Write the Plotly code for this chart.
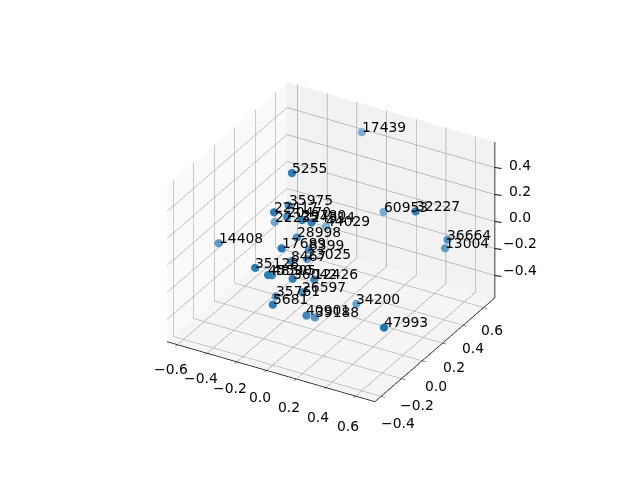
import plotly.graph_objects as go

labels = ["17439","5255","35975","22417","20470","22235","29780","24314","44029","14408",
          "28998","17689","8399","23025","8467","35128","45590","48505","36042","12426",
          "26597","35761","5681","40901","39188","34200","47993","60953","32227","36664","13004"]
xs = [-.15,-.14,-.19,-.157,-.16,-.367,-.01,.04,-.16,-.532,
      -.10,-.037,-.02,-.08,-.06,-.153,-.08,-.13,.023,.10,
      .02,-.17,-.003,.13,.083,.19,.618,.118,.527,.59,.57]
ys = [.685,-.01,.03,-.16,-.03,.15,-.10,-.08,.35,-.157,
      -.02,-.26,-.02,.05,-.13,-.35,-.33,-.22,-.24,-.14,
      -.14,-.125,-.395,-.26,-.11,.14,-.21,.51,.23,.45,.455]
zs = [.40,.558,.275,.36,.24,.018,.31,.295,-.08,.01,
      .10,.197,.035,-.10,.01,.075,.032,-.058,-.023,-.07,
      -.19,-.29,-.12,-.248,-.375,-.405,-.215,.01,.328,-.007,-.08]
ticks_x = [-0.6,-0.4,-0.2,0.0,0.2,0.4,0.6]
ticks_y = [-0.4,-0.2,0.0,0.2,0.4,0.6]
ticks_z = [-0.4,-0.2,0.0,0.2,0.4]
xr = [-0.67, 0.73]
yr = [-0.46, 0.71]
zr = [-0.565, 0.59]

def fmt(t):
    return f"{t:.1f}".replace("-", "\u2212")

# depth shading: far points fade towards white (solid colours)
depth = [0.433*x - 0.75*y + 0.5*z for x, y, z in zip(xs, ys, zs)]
dmin, dmax = min(depth), max(depth)
def shade(d):
    a = 0.58 + 0.42*(d-dmin)/(dmax-dmin)
    return "rgb(%d,%d,%d)" % tuple(round(255 - a*(255-c)) for c in (31, 119, 180))
colors = [shade(d) for d in depth]

font = dict(family="DejaVu Sans", size=13.9, color="black")

def axis(rng, ticks, bg):
    return dict(range=rng, tickvals=ticks, ticktext=[fmt(t) for t in ticks], showticklabels=False,
                title=dict(text=""), showbackground=True, backgroundcolor=bg,
                gridcolor="#9c9c9c", gridwidth=1.2, zeroline=False, showspikes=False,
                showline=True, linecolor="black", linewidth=1.5, ticks="outside", ticklen=4,
                tickcolor="black", tickfont=font, autorange=False)

def note(x, y, z, text, **kw):
    base = dict(x=x, y=y, z=z, text=text, showarrow=False, font=font, borderpad=0, borderwidth=0)
    base.update(kw)
    return base

notes = []
for x, y, z, t in zip(xs, ys, zs, labels):
    notes.append(note(x, y, z, t, xanchor="left", yanchor="bottom", yshift=-3))
for t in ticks_x:
    notes.append(note(t, yr[0], zr[0], fmt(t), xanchor="center", yanchor="middle",
                      xshift=-7 - 1.67*t, yshift=-27 - 5*t))
for t in ticks_y:
    notes.append(note(xr[1], t, zr[0], fmt(t), xanchor="center", yanchor="middle",
                      xshift=17 - 9*(t + 0.4), yshift=-27 + 5*(t + 0.4)))
for t in ticks_z:
    notes.append(note(xr[1], yr[1], t, fmt(t), xanchor="center", yanchor="middle",
                      xshift=25.5, yshift=4.5 - 3.75*t))
    notes.append(note(xr[1], yr[1], t, ".", showarrow=True, arrowhead=0, arrowwidth=1,
                      arrowcolor="black", ax=7, ay=1, standoff=0,
                      font=dict(family="DejaVu Sans", size=2, color="rgba(0,0,0,0)")))

fig = go.Figure()
fig.add_trace(go.Scatter3d(x=xs, y=ys, z=zs, mode="markers",
                           marker=dict(size=4.8, color=colors, line=dict(width=0)),
                           hoverinfo="skip", showlegend=False))
fig.add_trace(go.Scatter3d(x=[xr[1], xr[1]], y=[yr[1], yr[1]], z=zr, mode="lines",
                           line=dict(color="black", width=1.5), hoverinfo="skip", showlegend=False))
zaxis = axis(zr, ticks_z, "#f5f5f5")
zaxis.update(ticks="", showline=False)
r = 2.47
cx, cy, cz = -0.011, -0.006, -0.03
fig.update_layout(
    width=640, height=480, margin=dict(l=0, r=0, t=0, b=0), paper_bgcolor="white",
    scene=dict(
        domain=dict(x=[0.0, 1.0], y=[0.0, 1.0]),
        xaxis=axis(xr, ticks_x, "#f9f9f9"),
        yaxis=axis(yr, ticks_y, "#f2f2f2"),
        zaxis=zaxis,
        annotations=notes,
        aspectmode="manual", aspectratio=dict(x=1, y=1, z=0.75),
        camera=dict(eye=dict(x=0.433*r+cx, y=-0.75*r+cy, z=0.5*r+cz), up=dict(x=0, y=0, z=1),
                    center=dict(x=cx, y=cy, z=cz), projection=dict(type="orthographic")),
    ),
)
fig.write_html("out.html")
